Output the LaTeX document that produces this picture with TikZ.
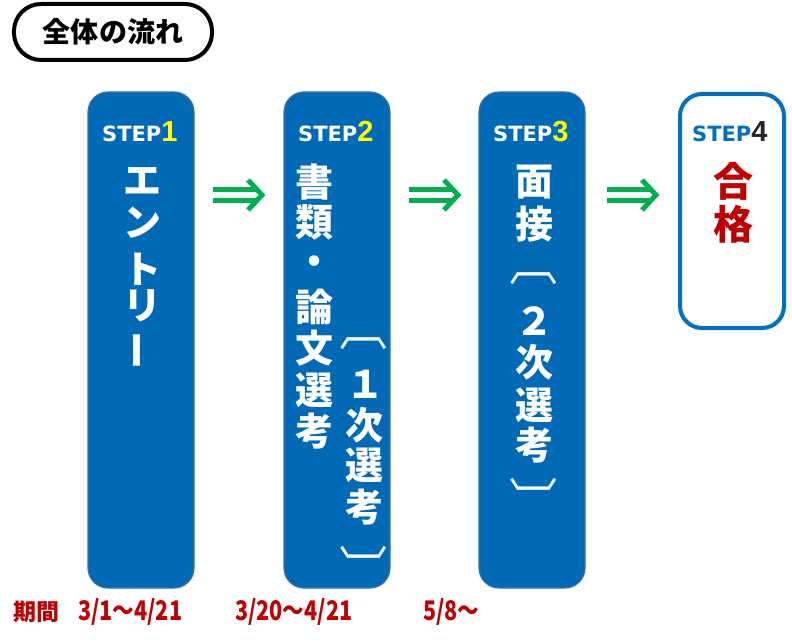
\documentclass[tikz,border=0pt]{standalone}
\usepackage{fontspec}
\newfontfamily\jpf{Noto Sans CJK JP}
\newfontfamily\condf{Noto Sans CJK JP}[FakeStretch=0.8]
\newfontfamily\stepf{DejaVu Sans}
\newfontfamily\numf{Liberation Sans}
\newcommand\stepdigit{\numf\bfseries\fontsize{29bp}{29bp}\selectfont}
\newcommand\inkbox[1]{\kern-\XeTeXglyphbounds1 \XeTeXcharglyph`#1\relax #1\kern-\XeTeXglyphbounds3 \XeTeXcharglyph`#1\relax}
\definecolor{boxblue}{RGB}{0,106,183}
\definecolor{boxedge}{RGB}{65,113,156}
\definecolor{frameblue}{RGB}{0,112,192}
\definecolor{agreen}{RGB}{0,176,80}
\definecolor{dred}{RGB}{192,0,0}
\definecolor{stepyellow}{RGB}{255,255,0}
\definecolor{numgray}{RGB}{38,38,38}
\begin{document}
\begin{tikzpicture}[x=1bp,y=-1bp,
 stepbox/.style={draw=boxedge, line width=1.2bp, fill=boxblue, rounded corners=20bp, minimum width=106bp, minimum height=496bp, inner sep=0},
 goalbox/.style={draw=frameblue, line width=4bp, fill=white, rounded corners=22bp, minimum width=104bp, minimum height=234bp, inner sep=0},
 titlebox/.style={draw=black, line width=4bp, rounded corners=27bp, minimum width=198bp, minimum height=56bp, inner sep=0, font=\jpf\bfseries\fontsize{28bp}{28bp}\selectfont},
 vch/.style={font=\jpf\bfseries\fontsize{38bp}{38bp}\selectfont, text=white, inner sep=0},
 brk/.style={font=\jpf\fontsize{48bp}{48bp}\selectfont, text=white, inner sep=0, rotate=-90},
 goalch/.style={font=\jpf\bfseries\fontsize{40bp}{40bp}\selectfont, text=dred, inner sep=0},
 steplbl/.style={anchor=base west, inner sep=0, text=white, font=\stepf\bfseries\fontsize{21bp}{21bp}\selectfont},
 period/.style={anchor=west, inner sep=0, text=dred, font=\jpf\bfseries\fontsize{23bp}{23bp}\selectfont},
 dates/.style={anchor=west, inner sep=0, text=dred, font=\condf\bfseries\fontsize{27bp}{27bp}\selectfont},
 dbl/.style={draw=agreen, line width=5bp, double=white, double distance=6bp},
 chev/.style={draw=agreen, line width=5bp, miter limit=4}
]
\useasboundingbox (0,0) rectangle (792,644);
% title
\node[titlebox] (title) at (113,32) {全体の流れ};
% boxes
\node[stepbox] (b1) at (141,340) {};
\node[stepbox] (b2) at (337,340) {};
\node[stepbox] (b3) at (532,340) {};
\node[goalbox] (b4) at (732,211) {};
% step labels
\node[steplbl] (s1) at (102,142) {STEP{\stepdigit\color{stepyellow}1}};
\node[steplbl] (s2) at (298,142) {STEP{\stepdigit\color{stepyellow}2}};
\node[steplbl] (s3) at (493,142) {STEP{\stepdigit\color{stepyellow}3}};
\node[steplbl, text=frameblue] (s4) at (692,142) {STEP{\stepdigit\color{numgray}4}};
% box 1
\node[vch] (e1) at (142,181) {エ};
\node[vch] (e2) at (142,223) {ン};
\node[vch] (e3) at (142,269) {ト};
\node[vch] (e4) at (142,306) {リ};
\node[vch, rotate=90] (e5) at (142,350) {ー};
% box 2 first column
\node[vch] (d1) at (314,182) {書};
\node[vch] (d2) at (314,222) {類};
\node[vch] (d3) at (314,266) {・};
\node[vch] (d4) at (314,307) {論};
\node[vch] (d5) at (314,348) {文};
\node[vch] (d6) at (314,390) {選};
\node[vch] (d7) at (314,431) {考};
% box 2 second column
\node[brk] (f1) at (364,344) {\inkbox{〔}};
\node[vch] (f2) at (365,384) {１};
\node[vch] (f3) at (364,425) {次};
\node[vch] (f4) at (364,465) {選};
\node[vch] (f5) at (364,507) {考};
\node[brk] (f6) at (364,552) {\inkbox{〕}};
% box 3
\node[vch] (g1) at (534,182) {面};
\node[vch] (g2) at (534,224) {接};
\node[brk] (g3) at (534,279) {\inkbox{〔}};
\node[vch] (g4) at (534,321) {２};
\node[vch] (g5) at (534,362) {次};
\node[vch] (g6) at (534,405) {選};
\node[vch] (g7) at (534,445) {考};
\node[brk] (g8) at (534,484) {\inkbox{〕}};
% box 4
\node[goalch] (h1) at (733,181) {合};
\node[goalch] (h2) at (733,224) {格};
% arrows
\coordinate (a1s) at (213,195); \coordinate (a1e) at (262,195);
\coordinate (a2s) at (409,195); \coordinate (a2e) at (458,195);
\coordinate (a3s) at (607,195); \coordinate (a3e) at (656,195);
\foreach \a in {a1,a2,a3}{
  \draw[dbl] (\a s) -- ([xshift=-5bp]\a e);
  \draw[chev] ([shift={(-14,-15)}]\a e) -- (\a e) -- ([shift={(-14,15)}]\a e);
}
% periods
\node[period] (p0) at (13,612) {期間};
\node[dates] (p1) at (78,612) {3/1～4/21};
\node[dates] (p2) at (235,612) {3/20～4/21};
\node[dates] (p3) at (423,612) {5/8～};
\end{tikzpicture}
\end{document}
